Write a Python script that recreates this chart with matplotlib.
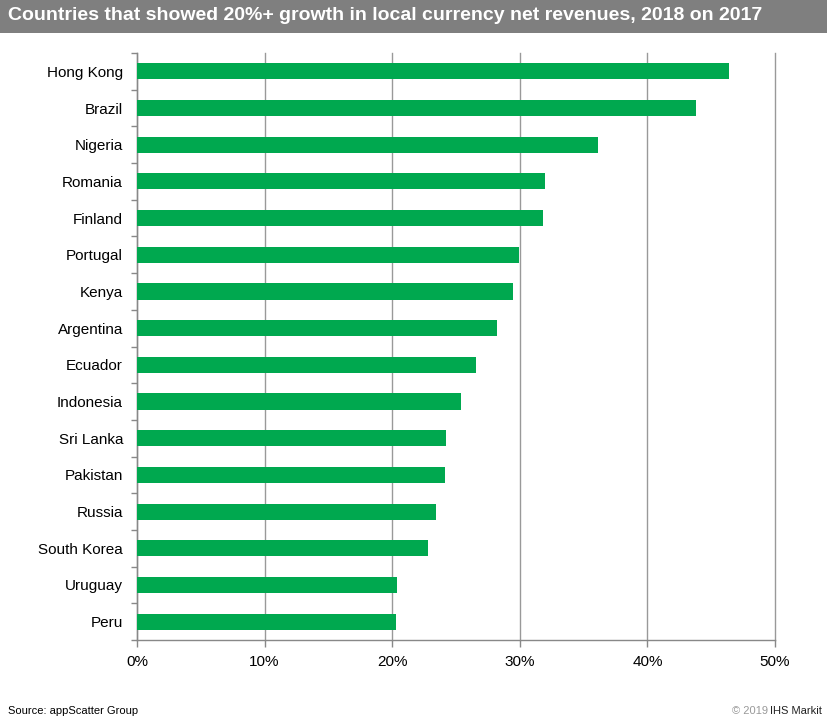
import matplotlib.pyplot as plt
from matplotlib.patches import Rectangle
from matplotlib.ticker import FuncFormatter, FixedLocator

countries = ['Hong Kong', 'Brazil', 'Nigeria', 'Romania', 'Finland', 'Portugal',
             'Kenya', 'Argentina', 'Ecuador', 'Indonesia', 'Sri Lanka', 'Pakistan',
             'Russia', 'South Korea', 'Uruguay', 'Peru']
growth = [46.4, 43.8, 36.1, 32.0, 31.8, 29.9, 29.5, 28.2, 26.6, 25.4,
          24.2, 24.1, 23.4, 22.8, 20.4, 20.3]
x_ticks = [0, 10, 20, 30, 40, 50]

plt.rcParams['font.family'] = ['Liberation Sans', 'DejaVu Sans']

fig = plt.figure(figsize=(8.28, 7.26), dpi=100)
W, H = 828, 726
ax = fig.add_axes([137 / W, 1 - 640 / H, (775 - 137) / W, (640 - 53) / H])

ypos = list(range(len(countries)))
ax.barh(ypos, growth, height=0.44, color='#00A84F', zorder=3)
ax.set_ylim(len(countries) - 0.5, -0.5)
ax.set_xlim(0, 50)

ax.set_yticks(ypos)
ax.set_yticklabels(countries, fontsize=11)
ax.yaxis.set_minor_locator(FixedLocator([i - 0.5 for i in range(len(countries) + 1)]))
ax.tick_params(axis='y', which='major', length=0, pad=10)
ax.tick_params(axis='y', which='minor', length=4, color='#888888', width=1)

ax.set_xticks(x_ticks)
ax.xaxis.set_major_formatter(FuncFormatter(lambda v, p: f'{v:.0f}%'))
ax.tick_params(axis='x', length=5, color='#888888', width=1, labelsize=11, pad=6)
ax.grid(axis='x', color='#999999', linewidth=1, zorder=0)
for gl in ax.get_xgridlines():
    gl.set_clip_on(False)

for s in ['top', 'right']:
    ax.spines[s].set_visible(False)
for s in ['left', 'bottom']:
    ax.spines[s].set_color('#888888')
    ax.spines[s].set_linewidth(1)

# title bar
fig.patches.append(Rectangle((0, 1 - 33 / H), 1, 33 / H, transform=fig.transFigure,
                             facecolor='#7F7F7F', edgecolor='none', zorder=0))
fig.text(8 / W, 1 - 16 / H, 'Countries that showed 20%+ growth in local currency net revenues, 2018 on 2017',
         color='white', fontsize=14, fontweight='bold', va='center', ha='left')

fig.text(8 / W, 1 - 711 / H, 'Source: appScatter Group', fontsize=8, va='center', ha='left')
fig.text(822 / W, 1 - 711 / H, 'IHS Markit', fontsize=8, va='center', ha='right',
         color='#222222')
fig.text(768 / W, 1 - 711 / H, '© 2019', fontsize=8, va='center', ha='right',
         color='#999999')

fig.savefig('out.png', dpi=100)
